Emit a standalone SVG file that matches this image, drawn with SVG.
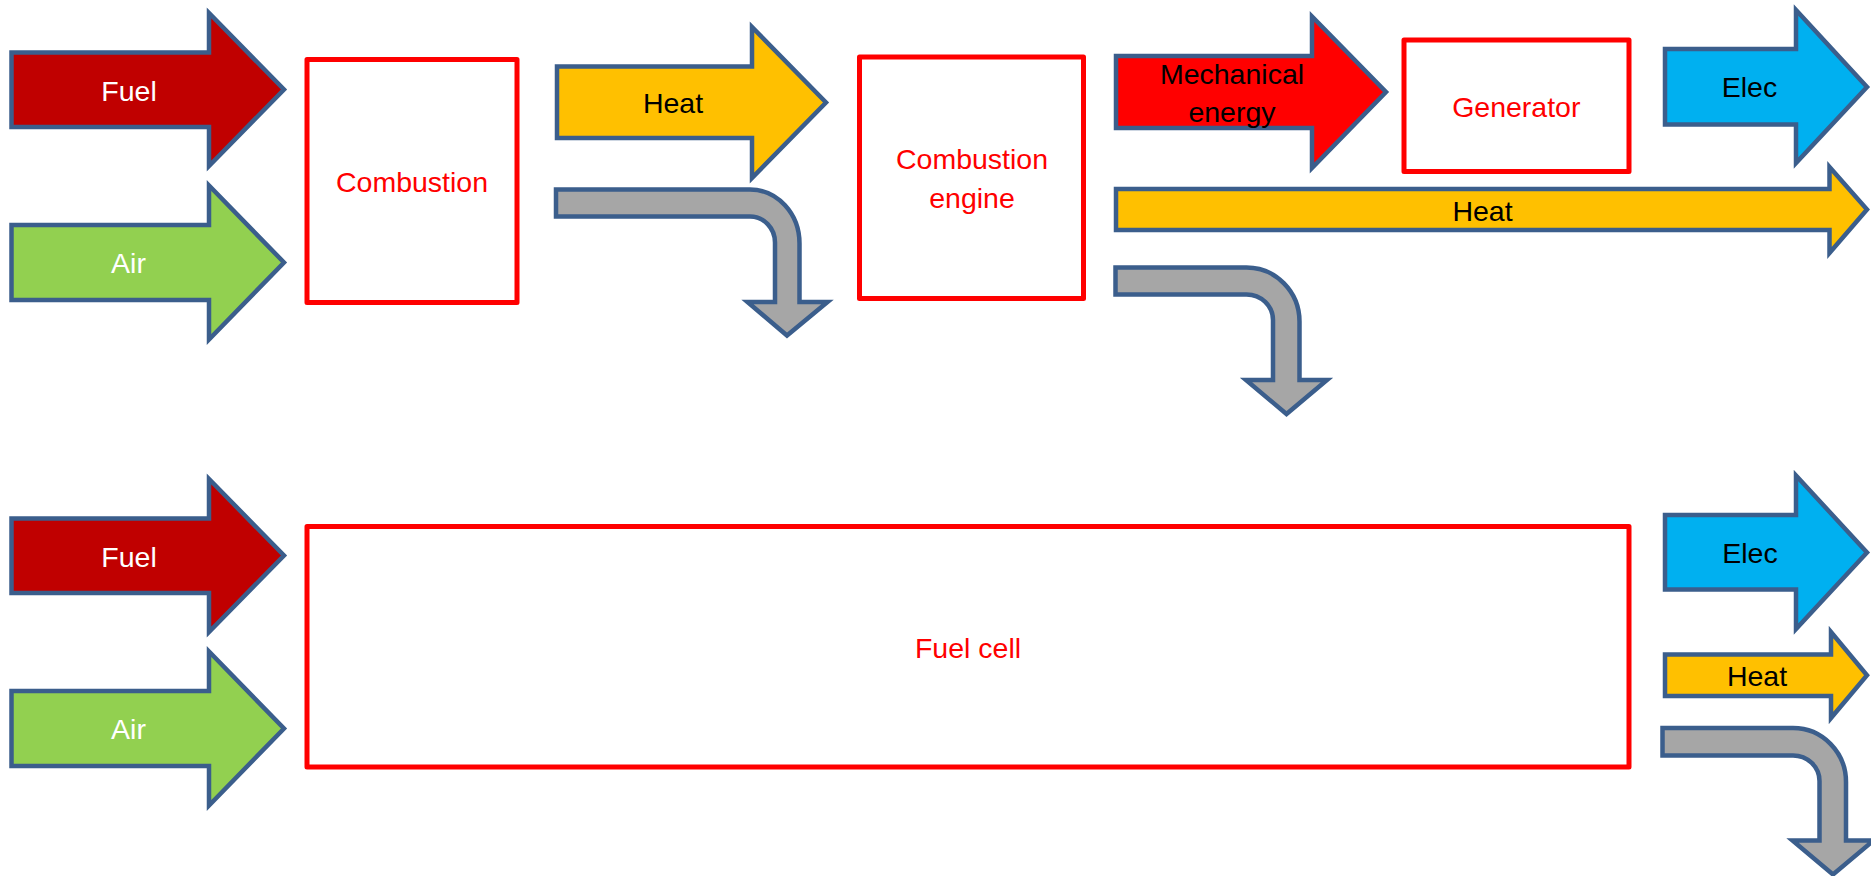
<svg xmlns="http://www.w3.org/2000/svg" width="1871" height="876" viewBox="0 0 1871 876">
<style>
.box{fill:#FFFFFF;stroke:#FF0000;stroke-width:5;stroke-linejoin:round}
.arr{stroke:#3B5E8C;stroke-width:4.5;stroke-linejoin:miter;stroke-miterlimit:10}
.fuel{fill:#C00000}
.air{fill:#92D050}
.heat{fill:#FFC000}
.mech{fill:#FF0000}
.elec{fill:#00B0F0}
.loss{fill:#A6A6A6}
text{font-family:"Liberation Sans",Arial,sans-serif;font-size:28.5px;text-anchor:middle}
.w{fill:#FFFFFF}
.k{fill:#000000}
.r{fill:#FF0000}
</style>
<rect x="0" y="0" width="1871" height="876" fill="#FFFFFF"/>

<g id="connectors">
  <g id="fuel-top">
    <polygon class="arr fuel" points="11.5,52.5 209,52.5 209,13 284,89.5 209,166 209,127 11.5,127"/>
    <text class="w" x="129" y="100.7">Fuel</text>
  </g>
  <g id="air-top">
    <polygon class="arr air" points="11.5,225 209,225 209,185.5 284,262.5 209,339.5 209,300 11.5,300"/>
    <text class="w" x="128.5" y="273.3">Air</text>
  </g>
  <g id="heat-combustion">
    <polygon class="arr heat" points="557,66.5 752,66.5 752,27 826,102.5 752,178 752,138 557,138"/>
    <text class="k" x="673" y="113">Heat</text>
  </g>
  <g id="loss-combustion">
    <path class="arr loss" d="M556,189.5 H750 A49.5 54 0 0 1 799.5,243.5 V302 H827.5 L787,335.5 L747.5,302 H775 V242.5 A25 26 0 0 0 750,216.5 H556 Z"/>
  </g>
  <g id="mechanical-energy">
    <polygon class="arr mech" points="1116,56 1312,56 1312,16.5 1386,92 1312,168 1312,128 1116,128"/>
    <text class="k" x="1232" y="84">Mechanical</text>
    <text class="k" x="1232" y="121.7">energy</text>
  </g>
  <g id="elec-top">
    <polygon class="arr elec" points="1665,49 1796,49 1796,10 1867,87 1796,163 1796,124.5 1665,124.5"/>
    <text class="k" x="1749.5" y="97.3">Elec</text>
  </g>
  <g id="heat-engine">
    <polygon class="arr heat" points="1116,189 1829.5,189 1829.5,167 1867,209.5 1829.5,253 1829.5,230 1116,230"/>
    <text class="k" x="1482.5" y="220.7">Heat</text>
  </g>
  <g id="loss-engine">
    <path class="arr loss" d="M1115.5,267.5 H1246.5 A53 54 0 0 1 1299.5,321.5 V380 H1327 L1286.5,414 L1246,380 H1273 V320 A26.5 25.5 0 0 0 1246.5,294.5 H1115.5 Z"/>
  </g>
  <g id="fuel-bottom">
    <polygon class="arr fuel" points="11.5,518.5 209,518.5 209,479 284,555.5 209,632 209,593 11.5,593"/>
    <text class="w" x="129" y="566.7">Fuel</text>
  </g>
  <g id="air-bottom">
    <polygon class="arr air" points="11.5,691 209,691 209,651.5 284,728.5 209,805.5 209,766 11.5,766"/>
    <text class="w" x="128.5" y="739.3">Air</text>
  </g>
  <g id="elec-bottom">
    <polygon class="arr elec" points="1665,515 1796,515 1796,475.5 1867,552.5 1796,629 1796,589.5 1665,589.5"/>
    <text class="k" x="1750" y="562.7">Elec</text>
  </g>
  <g id="heat-fuelcell">
    <polygon class="arr heat" points="1665,654.5 1831,654.5 1831,632 1867,675.3 1831,718 1831,696 1665,696"/>
    <text class="k" x="1757" y="686">Heat</text>
  </g>
  <g id="loss-fuelcell">
    <path class="arr loss" d="M1662.5,728 H1793 A53 54 0 0 1 1846,782 V840.5 H1873.5 L1833,874.5 L1792.5,840.5 H1819.5 V781 A26.5 25.5 0 0 0 1793,755.5 H1662.5 Z"/>
  </g>
</g>

<g id="combustion">
  <rect class="box" x="307" y="59.5" width="210" height="243"/>
  <text class="r" x="412" y="192">Combustion</text>
</g>
<g id="combustion-engine">
  <rect class="box" x="859.5" y="57" width="224" height="241.5"/>
  <text class="r" x="972" y="169">Combustion</text>
  <text class="r" x="972" y="207.5">engine</text>
</g>
<g id="generator">
  <rect class="box" x="1404" y="40" width="225" height="131.5"/>
  <text class="r" x="1516.3" y="116.7">Generator</text>
</g>
<g id="fuel-cell">
  <rect class="box" x="307" y="526.5" width="1322" height="240.5"/>
  <text class="r" x="968" y="658">Fuel cell</text>
</g>
</svg>
